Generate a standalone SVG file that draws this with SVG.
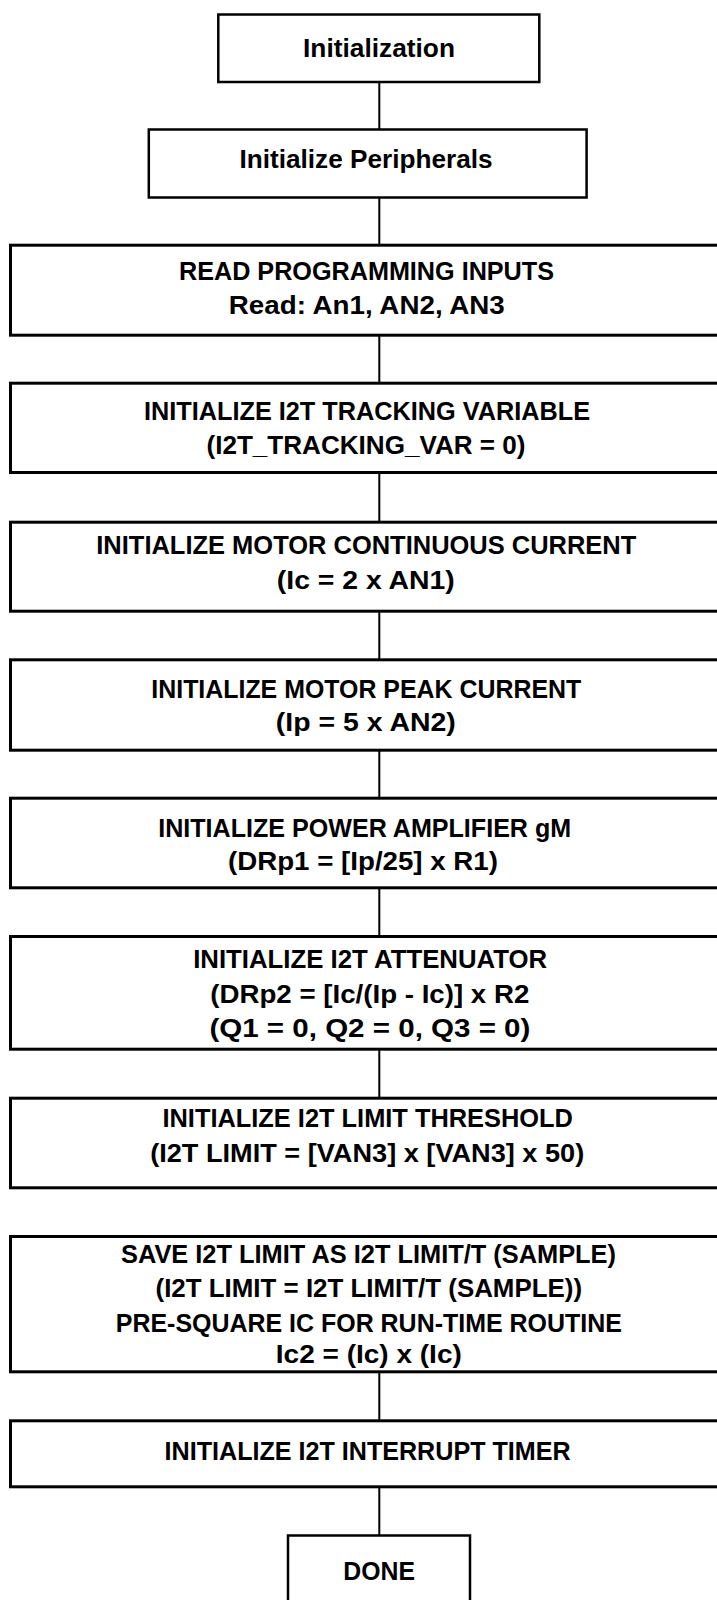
<svg xmlns="http://www.w3.org/2000/svg" width="717" height="1600" viewBox="0 0 717 1600">
<style>
.box{fill:#fff;stroke:#000;stroke-width:3}
.sm{stroke-width:2.5}
.t{font-family:"Liberation Sans",Arial,sans-serif;font-weight:bold;font-size:25px;fill:#000;text-anchor:middle}
.c{stroke:#000;stroke-width:2;fill:none}
</style>
<rect width="717" height="1600" fill="#fff"/>
<g id="connectors">
<line class="c" x1="379.3" y1="82" x2="379.3" y2="129"/>
<line class="c" x1="379.3" y1="198" x2="379.3" y2="245"/>
<line class="c" x1="379.3" y1="336" x2="379.3" y2="383"/>
<line class="c" x1="379.3" y1="473" x2="379.3" y2="522"/>
<line class="c" x1="379.3" y1="612" x2="379.3" y2="660"/>
<line class="c" x1="379.3" y1="751" x2="379.3" y2="798"/>
<line class="c" x1="379.3" y1="888" x2="379.3" y2="936"/>
<line class="c" x1="379.3" y1="1050" x2="379.3" y2="1098"/>
<line class="c" x1="379.3" y1="1372" x2="379.3" y2="1420"/>
<line class="c" x1="379.3" y1="1487" x2="379.3" y2="1535"/>
</g>
<g id="n1">
<rect class="box sm" x="218.3" y="14.5" width="321" height="67.5"/>
<text class="t" x="379" y="56.7" textLength="152" lengthAdjust="spacingAndGlyphs">Initialization</text>
</g>
<g id="n2">
<rect class="box sm" x="148.8" y="129.5" width="437.8" height="68"/>
<text class="t" x="366" y="168" textLength="253" lengthAdjust="spacingAndGlyphs">Initialize Peripherals</text>
</g>
<g id="n3">
<rect class="box" x="10.5" y="245.2" width="720" height="90"/>
<text class="t" x="366.5" y="280" textLength="375" lengthAdjust="spacingAndGlyphs">READ PROGRAMMING INPUTS</text>
<text class="t" x="366.8" y="314" textLength="276" lengthAdjust="spacingAndGlyphs">Read: An1, AN2, AN3</text>
</g>
<g id="n4">
<rect class="box" x="10.5" y="383.2" width="720" height="89.3"/>
<text class="t" x="367" y="420" textLength="446" lengthAdjust="spacingAndGlyphs">INITIALIZE I2T TRACKING VARIABLE</text>
<text class="t" x="366" y="453.5" textLength="319" lengthAdjust="spacingAndGlyphs">(I2T_TRACKING_VAR = 0)</text>
</g>
<g id="n5">
<rect class="box" x="10.5" y="522.2" width="720" height="89"/>
<text class="t" x="366.3" y="554" textLength="540" lengthAdjust="spacingAndGlyphs">INITIALIZE MOTOR CONTINUOUS CURRENT</text>
<text class="t" x="365.8" y="589.3" textLength="178" lengthAdjust="spacingAndGlyphs">(Ic = 2 x AN1)</text>
</g>
<g id="n6">
<rect class="box" x="10.5" y="659.8" width="720" height="90.4"/>
<text class="t" x="366.3" y="698.3" textLength="430" lengthAdjust="spacingAndGlyphs">INITIALIZE MOTOR PEAK CURRENT</text>
<text class="t" x="365.8" y="731" textLength="180" lengthAdjust="spacingAndGlyphs">(Ip = 5 x AN2)</text>
</g>
<g id="n7">
<rect class="box" x="10.5" y="798.2" width="720" height="89.6"/>
<text class="t" x="364.7" y="837.3" textLength="413" lengthAdjust="spacingAndGlyphs">INITIALIZE POWER AMPLIFIER gM</text>
<text class="t" x="363" y="870" textLength="270" lengthAdjust="spacingAndGlyphs">(DRp1 = [Ip/25] x R1)</text>
</g>
<g id="n8">
<rect class="box" x="10.5" y="936.5" width="720" height="112.7"/>
<text class="t" x="370.2" y="968.3" textLength="354" lengthAdjust="spacingAndGlyphs">INITIALIZE I2T ATTENUATOR</text>
<text class="t" x="369.8" y="1003.3" textLength="319" lengthAdjust="spacingAndGlyphs">(DRp2 = [Ic/(Ip - Ic)] x R2</text>
<text class="t" x="369.9" y="1037.3" textLength="321" lengthAdjust="spacingAndGlyphs">(Q1 = 0, Q2 = 0, Q3 = 0)</text>
</g>
<g id="n9">
<rect class="box" x="10.5" y="1098.2" width="720" height="89.6"/>
<text class="t" x="367.7" y="1127.3" textLength="410.5" lengthAdjust="spacingAndGlyphs">INITIALIZE I2T LIMIT THRESHOLD</text>
<text class="t" x="367.2" y="1161.7" textLength="434" lengthAdjust="spacingAndGlyphs">(I2T LIMIT = [VAN3] x [VAN3] x 50)</text>
</g>
<g id="n10">
<rect class="box" x="10.5" y="1236.5" width="720" height="135.3"/>
<text class="t" x="368.5" y="1263.3" textLength="495" lengthAdjust="spacingAndGlyphs">SAVE I2T LIMIT AS I2T LIMIT/T (SAMPLE)</text>
<text class="t" x="368.8" y="1296.7" textLength="426.5" lengthAdjust="spacingAndGlyphs">(I2T LIMIT = I2T LIMIT/T (SAMPLE))</text>
<text class="t" x="368.8" y="1331.7" textLength="506" lengthAdjust="spacingAndGlyphs">PRE-SQUARE IC FOR RUN-TIME ROUTINE</text>
<text class="t" x="368.8" y="1363.3" textLength="186" lengthAdjust="spacingAndGlyphs">Ic2 = (Ic) x (Ic)</text>
</g>
<g id="n11">
<rect class="box" x="10.5" y="1420.8" width="720" height="66"/>
<text class="t" x="367.6" y="1460" textLength="406" lengthAdjust="spacingAndGlyphs">INITIALIZE I2T INTERRUPT TIMER</text>
</g>
<g id="n12">
<rect class="box sm" x="288" y="1535.5" width="182" height="100"/>
<text class="t" x="379.2" y="1580" textLength="71.7" lengthAdjust="spacingAndGlyphs">DONE</text>
</g>
</svg>
